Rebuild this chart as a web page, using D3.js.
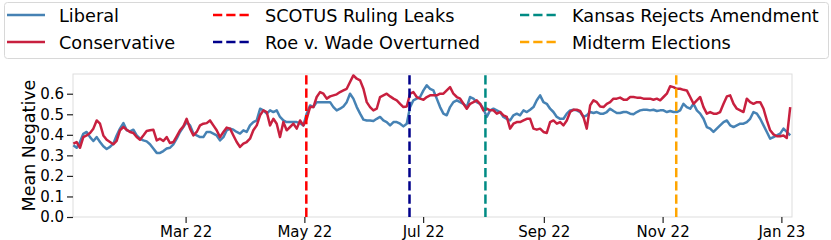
<!DOCTYPE html>
<html>
<head>
<meta charset="utf-8">
<script src="https://cdn.jsdelivr.net/npm/d3@7"></script>
<style>
  body { margin: 0; background: #fff; }
  text { font-family: "DejaVu Sans", sans-serif; }
</style>
</head>
<body>
<script>
// mean negative score, sampled about every 41 hours from 2 Jan 2022
var liberal = [
  0.349,0.337,0.365,0.405,0.414,0.389,0.370,0.389,0.365,0.344,0.331,0.341,0.357,0.397,0.430,0.457,0.422,0.417,
  0.425,0.397,0.381,0.373,0.368,0.354,0.333,0.312,0.312,0.321,0.333,0.337,0.354,0.381,0.414,0.438,0.462,0.446,
  0.406,0.397,0.389,0.389,0.414,0.414,0.406,0.397,0.373,0.389,0.422,0.430,0.425,0.414,0.406,0.422,0.414,0.446,
  0.462,0.470,0.527,0.519,0.503,0.519,0.511,0.519,0.487,0.470,0.462,0.462,0.462,0.462,0.457,0.446,0.503,0.543,
  0.535,0.559,0.559,0.559,0.559,0.559,0.535,0.519,0.527,0.538,0.559,0.600,0.576,0.535,0.503,0.474,0.470,0.470,
  0.467,0.478,0.487,0.470,0.462,0.446,0.462,0.462,0.454,0.441,0.454,0.535,0.568,0.576,0.584,0.616,0.641,0.624,
  0.616,0.576,0.535,0.503,0.495,0.535,0.559,0.568,0.559,0.551,0.535,0.584,0.576,0.559,0.551,0.527,0.487,0.519,
  0.527,0.519,0.511,0.487,0.478,0.470,0.495,0.503,0.495,0.519,0.511,0.522,0.535,0.568,0.592,0.559,0.551,0.527,
  0.511,0.487,0.478,0.478,0.503,0.519,0.522,0.519,0.511,0.487,0.495,0.511,0.506,0.511,0.503,0.503,0.511,0.527,
  0.516,0.506,0.506,0.511,0.511,0.503,0.500,0.511,0.519,0.522,0.522,0.519,0.522,0.516,0.519,0.519,0.511,0.516,
  0.511,0.511,0.519,0.551,0.535,0.527,0.551,0.519,0.503,0.478,0.438,0.430,0.414,0.430,0.446,0.462,0.470,0.446,
  0.438,0.446,0.454,0.454,0.462,0.478,0.511,0.503,0.478,0.446,0.414,0.381,0.389,0.397,0.406,0.430,0.414,0.397
];
var conservative = [
  0.357,0.365,0.337,0.389,0.397,0.409,0.430,0.470,0.454,0.397,0.376,0.365,0.354,0.370,0.422,0.438,0.425,0.414,
  0.409,0.389,0.376,0.397,0.419,0.422,0.425,0.373,0.381,0.370,0.389,0.360,0.365,0.393,0.422,0.441,0.478,0.430,
  0.397,0.414,0.446,0.454,0.457,0.470,0.446,0.422,0.389,0.414,0.435,0.430,0.397,0.365,0.341,0.357,0.365,0.381,
  0.422,0.446,0.495,0.519,0.511,0.446,0.478,0.454,0.389,0.462,0.422,0.438,0.454,0.430,0.470,0.446,0.478,0.535,
  0.535,0.584,0.608,0.600,0.576,0.587,0.592,0.597,0.608,0.616,0.624,0.657,0.689,0.673,0.665,0.624,0.559,0.535,
  0.519,0.527,0.584,0.592,0.600,0.587,0.576,0.568,0.551,0.535,0.538,0.600,0.608,0.584,0.576,0.571,0.584,0.592,
  0.592,0.592,0.600,0.600,0.616,0.632,0.600,0.584,0.576,0.551,0.527,0.551,0.559,0.568,0.551,0.519,0.527,0.519,
  0.519,0.503,0.511,0.495,0.487,0.430,0.454,0.462,0.462,0.470,0.478,0.478,0.430,0.425,0.430,0.414,0.409,0.462,
  0.470,0.454,0.462,0.446,0.470,0.511,0.522,0.522,0.516,0.487,0.430,0.543,0.568,0.559,0.538,0.535,0.551,0.559,
  0.576,0.576,0.581,0.571,0.571,0.584,0.584,0.581,0.581,0.576,0.576,0.576,0.571,0.576,0.568,0.584,0.600,0.636,
  0.632,0.624,0.624,0.619,0.616,0.584,0.551,0.568,0.584,0.535,0.503,0.511,0.503,0.503,0.511,0.551,0.587,0.592,
  0.551,0.527,0.519,0.511,0.576,0.559,0.551,0.559,0.559,0.527,0.470,0.422,0.402,0.393,0.393,0.397,0.385,0.535
];
var sampleStart = new Date(2022, 0, 2, 8);
var stepHours = 41.1;

var eventNames = ["SCOTUS Ruling Leaks", "Roe v. Wade Overturned", "Kansas Rejects Amendment", "Midterm Elections"];
var eventDates = ["2022-05-02", "2022-06-24", "2022-08-02", "2022-11-08"];
var eventColors = ["#ff0000", "#00008b", "#008b84", "#ffa500"];

var yTicks = [0, 0.1, 0.2, 0.3, 0.4, 0.5, 0.6];
var xTicks = ["2022-03-01", "2022-05-01", "2022-07-01", "2022-09-01", "2022-11-01", "2023-01-01"];

var blue = "#4682b4", red = "#c8203f";

var W = 831, H = 240;
var m = {left: 73, right: 792, top: 74, bottom: 217};
var parse = d3.timeParse("%Y-%m-%d");

var svg = d3.select("body").append("svg")
  .attr("width", W)
  .attr("height", H);

var x = d3.scaleTime()
  .domain([new Date(2022, 0, 2, 4), new Date(2023, 0, 6, 11)])
  .range([m.left, m.right]);
var y = d3.scaleLinear()
  .domain([0, 0.696])
  .range([m.bottom, m.top]);

function dateAt(i) { return d3.timeHour.offset(sampleStart, Math.round(i * stepHours)); }

// frame
svg.append("rect")
  .attr("x", m.left).attr("y", m.top)
  .attr("width", m.right - m.left).attr("height", m.bottom - m.top)
  .attr("fill", "none").attr("stroke", "#dddddd").attr("stroke-width", 1);

var line = d3.line()
  .x(function(d, i) { return x(dateAt(i)); })
  .y(function(d) { return y(d); });

[[liberal, blue], [conservative, red]].forEach(function(s) {
  svg.append("path")
    .datum(s[0])
    .attr("d", line)
    .attr("fill", "none")
    .attr("stroke", s[1])
    .attr("stroke-width", 2.5)
    .attr("stroke-linejoin", "round");
});

eventDates.forEach(function(d, i) {
  var ex = x(parse(d));
  svg.append("line")
    .attr("x1", ex).attr("x2", ex)
    .attr("y1", m.bottom).attr("y2", m.top)
    .attr("stroke", eventColors[i])
    .attr("stroke-width", 2.5)
    .attr("stroke-dasharray", "9.25,4");
});

// axes
var yAxis = svg.append("g")
  .attr("transform", "translate(" + m.left + ",0)")
  .call(d3.axisLeft(y).tickValues(yTicks).tickFormat(d3.format(".1f")).tickSize(6).tickPadding(3));
var xAxis = svg.append("g")
  .attr("transform", "translate(0," + m.bottom + ")")
  .call(d3.axisBottom(x).tickValues(xTicks.map(parse)).tickFormat(d3.timeFormat("%b %y")).tickSize(6).tickPadding(3));

[yAxis, xAxis].forEach(function(a) {
  a.select(".domain").remove();
  a.selectAll(".tick line").attr("stroke", "#222").attr("stroke-width", 1.2);
  a.selectAll(".tick text")
    .attr("fill", "#000")
    .style("font-size", "15px")
    .style("font-family", "DejaVu Sans");
});

svg.append("text")
  .attr("transform", "translate(35," + ((m.top + m.bottom) / 2) + ") rotate(-90)")
  .attr("text-anchor", "middle")
  .style("font-size", "17.5px")
  .text("Mean Negative");

// legend
svg.append("rect")
  .attr("x", 4.5).attr("y", 2.5)
  .attr("width", 824).attr("height", 56)
  .attr("rx", 3)
  .attr("fill", "#fff").attr("fill-opacity", 0.8)
  .attr("stroke", "#d8d8d8");

var legendItems = [
  {name: "Liberal", color: blue, dash: null},
  {name: "Conservative", color: red, dash: null}
];
eventNames.forEach(function(n, i) {
  legendItems.push({name: n, color: eventColors[i], dash: "9.25,4"});
});

var colX = [7, 213, 520];
var rowY = [15, 42];

legendItems.forEach(function(it, i) {
  var cx = colX[Math.floor(i / 2)], cy = rowY[i % 2];
  var g = svg.append("g").attr("transform", "translate(" + cx + "," + cy + ")");
  g.append("line")
    .attr("x1", 0).attr("x2", 38)
    .attr("stroke", it.color)
    .attr("stroke-width", 2.5)
    .attr("stroke-dasharray", it.dash);
  g.append("text")
    .attr("x", 52).attr("y", 7)
    .style("font-size", "17.7px")
    .text(it.name);
});
</script>
</body>
</html>
